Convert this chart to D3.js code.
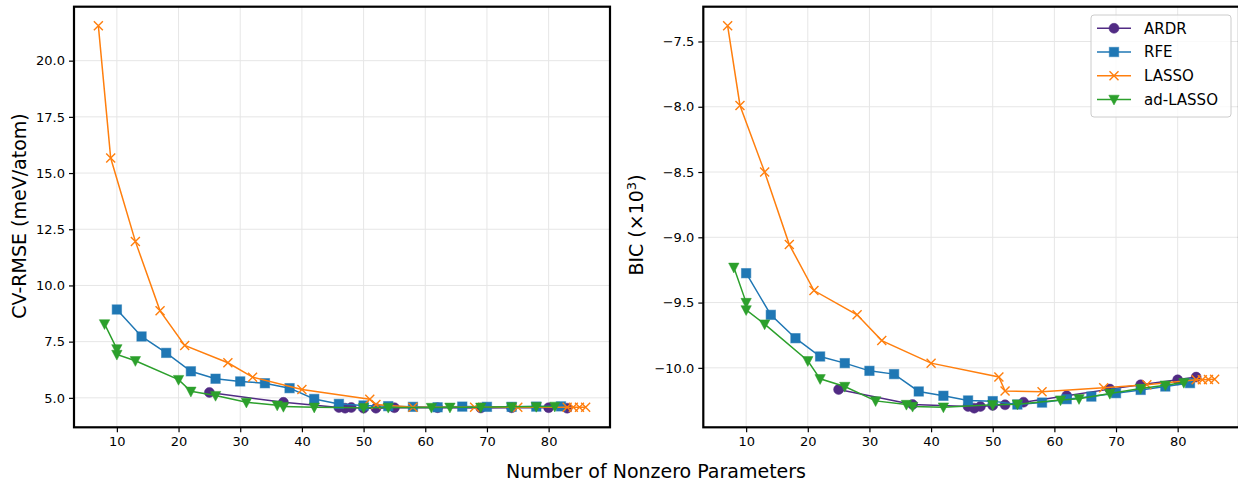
<!DOCTYPE html>
<html>
<head>
<meta charset="utf-8">
<script src="https://cdn.jsdelivr.net/npm/d3@7"></script>
<style>
  body { margin: 0; background: #fff; }
  text { font-family: "DejaVu Sans", sans-serif; fill: #000; }
</style>
</head>
<body>
<svg id="chart" width="1238" height="482"></svg>
<script>
// --- DATOS ---
const metodos = ["ARDR", "RFE", "LASSO", "ad-LASSO"];
const colores = ["#512b84", "#1f77b4", "#ff7f0e", "#2ca02c"];
const marcadores = ["circle", "square", "x", "triangle"];

// numero de parametros distintos de cero
const xArdr = [25, 37, 46, 47, 48, 50, 52, 55, 62, 69, 74, 80, 83];
const xRfe = [10, 14, 18, 22, 26, 30, 34, 38, 42, 46, 50, 54, 58, 62, 66, 70, 74, 78, 82];
const xLasso = [7, 9, 13, 17, 21, 28, 32, 40, 51, 52, 58, 68, 75, 83, 84, 85, 86];
const xAdLasso = [8, 10, 10, 13, 20, 22, 26, 31, 36, 37, 42, 50, 54, 61, 64, 69, 74, 78, 81];

// CV-RMSE (meV/atom)
const rmseArdr = [5.24, 4.80, 4.57, 4.54, 4.57, 4.54, 4.54, 4.56, 4.56, 4.55, 4.56, 4.56, 4.54];
const rmseRfe = [8.93, 7.73, 7.00, 6.18, 5.85, 5.73, 5.65, 5.43, 4.95, 4.73, 4.66, 4.63, 4.60, 4.58, 4.61, 4.60, 4.60, 4.61, 4.62];
const rmseLasso = [21.55, 15.67, 11.96, 8.87, 7.33, 6.56, 5.92, 5.37, 4.94, 4.70, 4.58, 4.58, 4.58, 4.58, 4.58, 4.58, 4.58];
const rmseAdLasso = [8.29, 7.18, 6.93, 6.65, 5.81, 5.29, 5.10, 4.80, 4.67, 4.61, 4.58, 4.56, 4.57, 4.57, 4.58, 4.58, 4.60, 4.61, 4.62];

// BIC (x10^3)
const bicArdr = [-10.166, -10.281, -10.296, -10.309, -10.296, -10.288, -10.283, -10.263, -10.214, -10.163, -10.130, -10.092, -10.071];
const bicRfe = [-9.275, -9.594, -9.773, -9.913, -9.964, -10.023, -10.048, -10.181, -10.214, -10.250, -10.255, -10.281, -10.266, -10.240, -10.220, -10.194, -10.169, -10.143, -10.117];
const bicLasso = [-7.38, -7.99, -8.50, -9.056, -9.408, -9.594, -9.791, -9.964, -10.070, -10.177, -10.184, -10.153, -10.130, -10.092, -10.091, -10.090, -10.088];
const bicAdLasso = [-9.23, -9.500, -9.556, -9.665, -9.946, -10.084, -10.143, -10.253, -10.281, -10.296, -10.301, -10.283, -10.278, -10.247, -10.237, -10.197, -10.158, -10.133, -10.113];

const xTicks = [10, 20, 30, 40, 50, 60, 70, 80];
const yTicksRmse = [5.0, 7.5, 10.0, 12.5, 15.0, 17.5, 20.0];
const yTicksBic = [-10.0, -9.5, -9.0, -8.5, -8.0, -7.5];

const xs = [xArdr, xRfe, xLasso, xAdLasso];
const paneles = [
  { x0: 74, x1: 610, ys: [rmseArdr, rmseRfe, rmseLasso, rmseAdLasso], ticks: yTicksRmse, fmt: d3.format(".1f") },
  { x0: 703.3, x1: 1239, ys: [bicArdr, bicRfe, bicLasso, bicAdLasso], ticks: yTicksBic, fmt: d => d3.format(".1f")(d).replace("-", "\u2212") }
];
const yArriba = 6.7, yAbajo = 427.3;

const svg = d3.select("#chart");

// --- MARCADORES ---
function dibujarMarcador(g, tipo, color) {
  if (tipo === "circle") {
    g.append("circle").attr("r", 5).attr("fill", color)
      .attr("stroke", color).attr("stroke-opacity", 0.5);
  } else if (tipo === "square") {
    g.append("rect").attr("x", -4.7).attr("y", -4.7).attr("width", 9.4).attr("height", 9.4)
      .attr("fill", color).attr("stroke", color).attr("stroke-opacity", 0.5);
  } else if (tipo === "triangle") {
    g.append("path").attr("d", "M-5.2,-4.2L5.2,-4.2L0,5.6Z").attr("fill", color)
      .attr("stroke", color).attr("stroke-opacity", 0.5);
  } else {
    g.append("path").attr("d", "M-4.5,-4.5L4.5,4.5M-4.5,4.5L4.5,-4.5")
      .attr("stroke", color).attr("stroke-width", 1.4).attr("fill", "none");
  }
}

function dominio(arrs) {
  const todos = arrs.flat();
  const mn = d3.min(todos), mx = d3.max(todos);
  const m = (mx - mn) * 0.05;
  return [mn - m, mx + m];
}

// --- PANELES ---
paneles.forEach(p => {
  const x = d3.scaleLinear().domain(dominio(xs)).range([p.x0, p.x1]);
  const y = d3.scaleLinear().domain(dominio(p.ys)).range([yAbajo, yArriba]);

  const g = svg.append("g");
  const clipId = "clip" + Math.round(p.x0);
  svg.append("clipPath").attr("id", clipId).append("rect")
    .attr("x", p.x0).attr("y", yArriba).attr("width", p.x1 - p.x0).attr("height", yAbajo - yArriba);

  // cuadricula
  g.append("g").selectAll("line").data(xTicks).enter().append("line")
    .attr("x1", d => x(d)).attr("x2", d => x(d)).attr("y1", yArriba).attr("y2", yAbajo)
    .attr("stroke", "#e6e6e6").attr("stroke-width", 1);
  g.append("g").selectAll("line").data(p.ticks).enter().append("line")
    .attr("y1", d => y(d)).attr("y2", d => y(d)).attr("x1", p.x0).attr("x2", p.x1)
    .attr("stroke", "#e6e6e6").attr("stroke-width", 1);

  // series
  const series = g.append("g").attr("clip-path", `url(#${clipId})`);
  metodos.forEach((m, i) => {
    const puntos = xs[i].map((v, j) => [v, p.ys[i][j]]);
    series.append("path").datum(puntos)
      .attr("fill", "none").attr("stroke", colores[i]).attr("stroke-width", 1.5)
      .attr("d", d3.line().x(d => x(d[0])).y(d => y(d[1])));
    puntos.forEach(d => {
      const mg = series.append("g").attr("transform", `translate(${x(d[0])},${y(d[1])})`);
      dibujarMarcador(mg, marcadores[i], colores[i]);
    });
  });

  // ejes
  const ax = g.append("g").attr("transform", `translate(0,${yAbajo})`)
    .call(d3.axisBottom(x).tickValues(xTicks).tickSize(5).tickPadding(4));
  const ay = g.append("g").attr("transform", `translate(${p.x0},0)`)
    .call(d3.axisLeft(y).tickValues(p.ticks).tickFormat(p.fmt).tickSize(5).tickPadding(4));
  [ax, ay].forEach(a => {
    a.select(".domain").remove();
    a.selectAll("line").attr("stroke", "#000").attr("stroke-width", 1.2);
    a.selectAll("text").attr("font-size", 13).attr("font-family", "DejaVu Sans");
  });

  // marco
  g.append("rect").attr("x", p.x0).attr("y", yArriba).attr("width", p.x1 - p.x0).attr("height", yAbajo - yArriba)
    .attr("fill", "none").attr("stroke", "#000").attr("stroke-width", 2.2);
});

// --- ETIQUETAS ---
svg.append("text").attr("transform", "translate(26,216) rotate(-90)")
  .attr("text-anchor", "middle").attr("font-size", 19).text("CV-RMSE (meV/atom)");
const bic = svg.append("text").attr("transform", "translate(643,225) rotate(-90)")
  .attr("text-anchor", "middle").attr("font-size", 19);
bic.append("tspan").text("BIC (\u00d710");
bic.append("tspan").attr("font-size", 13).attr("dy", -7.5).text("3");
bic.append("tspan").attr("dy", 7.5).text(")");
svg.append("text").attr("x", 656).attr("y", 478).attr("text-anchor", "middle")
  .attr("font-size", 19).text("Number of Nonzero Parameters");

// --- LEYENDA ---
const leyenda = svg.append("g");
leyenda.append("rect").attr("x", 1091).attr("y", 15).attr("width", 140).attr("height", 102)
  .attr("rx", 3).attr("fill", "#fff").attr("fill-opacity", 0.8)
  .attr("stroke", "#cccccc").attr("stroke-width", 1);
metodos.forEach((m, i) => {
  const yy = 28.3 + i * 23.7;
  leyenda.append("line").attr("x1", 1097).attr("x2", 1131).attr("y1", yy).attr("y2", yy)
    .attr("stroke", colores[i]).attr("stroke-width", 1.5);
  const mg = leyenda.append("g").attr("transform", `translate(1114,${yy})`);
  dibujarMarcador(mg, marcadores[i], colores[i]);
  leyenda.append("text").attr("x", 1144).attr("y", yy).attr("dy", "0.36em")
    .attr("font-size", 15).text(m);
});
</script>
</body>
</html>
